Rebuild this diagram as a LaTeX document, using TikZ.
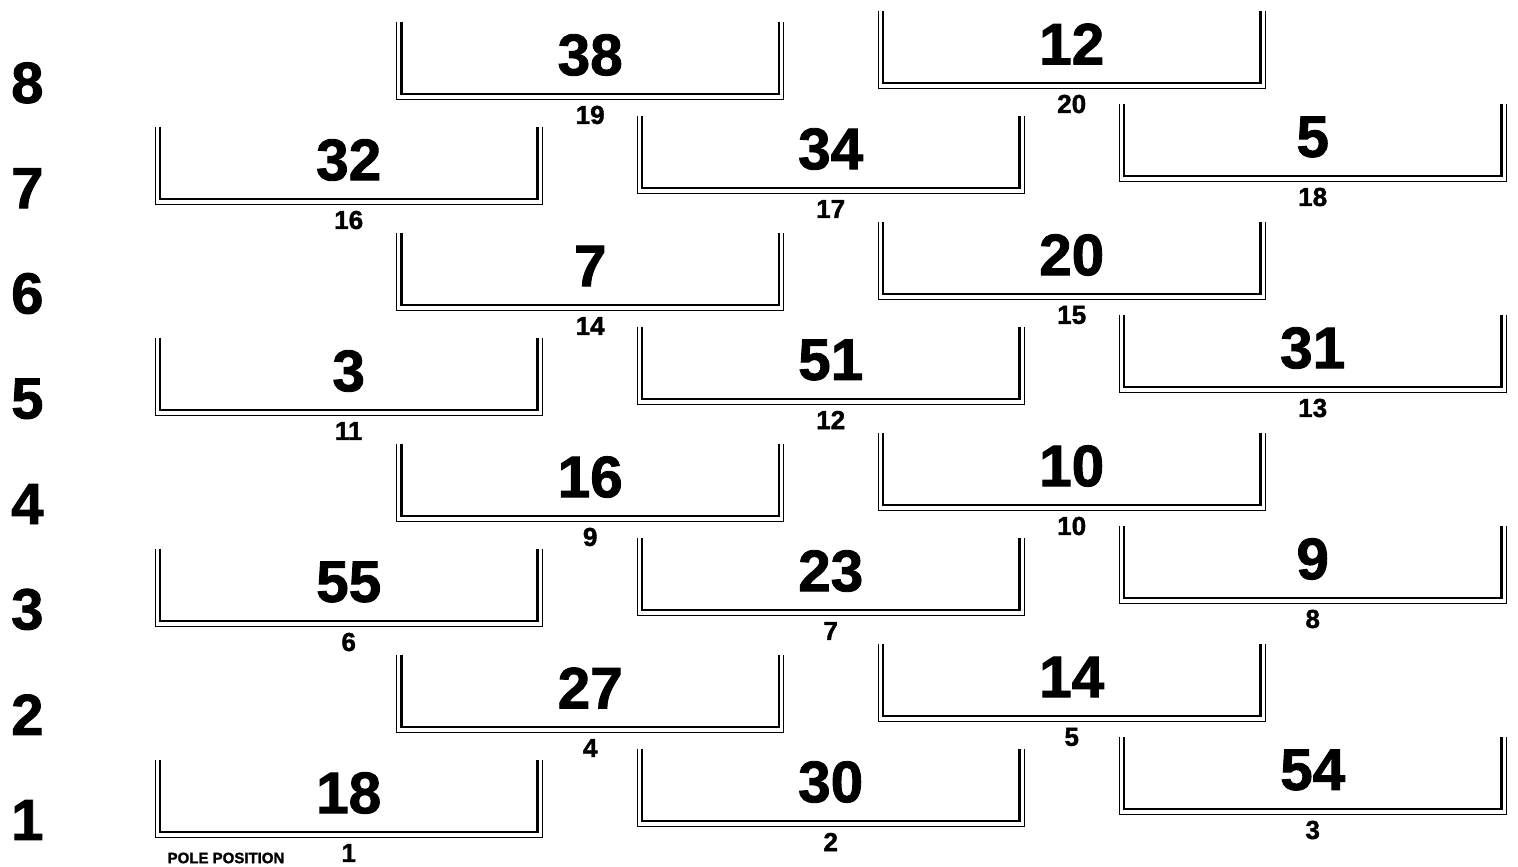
\documentclass[tikz,border=0pt]{standalone}
\usepackage{fontspec}
\setmainfont{Liberation Sans}[BoldFeatures={FakeBold=1.5}]
\begin{document}
\begin{tikzpicture}[x=1pt,y=-1pt,
  slot/.style={draw=none, minimum width=387pt, minimum height=77pt, inner sep=0pt, anchor=south west},
  outerline/.style={line width=1pt},
  innerline/.style={line width=2.2pt},
  carnum/.style={font=\fontsize{58.5}{60}\selectfont\bfseries, inner sep=0pt},
  posnum/.style={font=\fontsize{26}{28}\selectfont\bfseries, inner sep=0pt},
  rownum/.style={font=\fontsize{58}{60}\selectfont\bfseries, inner sep=0pt, anchor=west},
  polelabel/.style={font=\fontsize{15}{16}\selectfont\bfseries, inner sep=0pt},
]
\useasboundingbox (0,0) rectangle (1518,867);
% row labels
\foreach \r in {1,...,8}{
  \node[rownum] (row\r) at (11,{820-105.3*(\r-1)}) {\r};
}
% grid slots: position / left x / bottom y / car number
\foreach \p/\x/\y/\c in {
  1/155/837/18, 2/637/826/30, 3/1119/814/54, 4/396.5/732/27, 5/878/721/14,
  6/155/626/55, 7/637/615/23, 8/1119/603/9, 9/396.5/521/16, 10/878/510/10,
  11/155/415/3, 12/637/404/51, 13/1119/392/31, 14/396.5/310/7, 15/878/299/20,
  16/155/204/32, 17/637/193/34, 18/1119/181/5, 19/396.5/99/38, 20/878/88/12}{
  \node[slot] (b\p) at (\x,\y) {};
  \draw[outerline] (b\p.north west) |- (b\p.south east) -- (b\p.north east);
  \draw[innerline] ([xshift=5pt]b\p.north west) |- ([xshift=-5pt,yshift=5pt]b\p.south east) -- ([xshift=-5pt]b\p.north east);
  \node[carnum] (c\p) at ([yshift=44pt]b\p.south) {\c};
  \node[posnum] (p\p) at ([yshift=-16pt]b\p.south) {\p};
}
\node[polelabel] (pole) at (226,858) {POLE POSITION};
\end{tikzpicture}
\end{document}
